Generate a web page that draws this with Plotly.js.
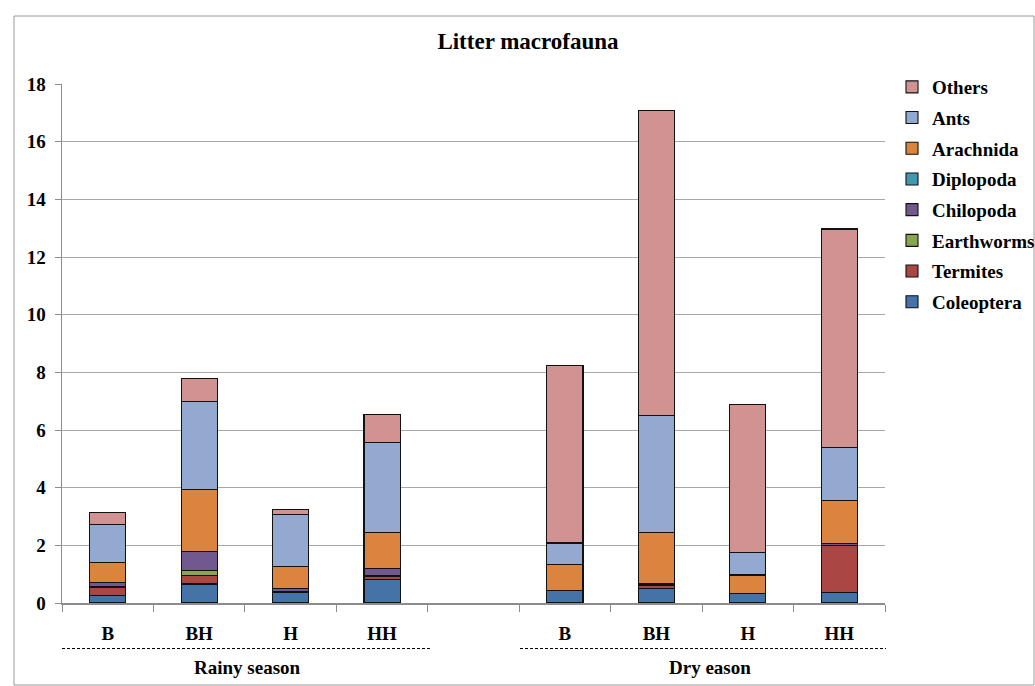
<!DOCTYPE html>
<html>
<head>
<meta charset="utf-8">
<script src="https://cdn.plot.ly/plotly-3.0.1.min.js"></script>
<style>html,body{margin:0;padding:0;background:#fff}#chart{width:1035px;height:686px}</style>
</head>
<body>
<div id="chart"></div>
<script>
// Category slots: rainy season B,BH,H,HH, gap, dry season B,BH,H,HH
var slotKeys = ['rB','rBH','rH','rHH','gap','dB','dBH','dH','dHH'];
var slotLabels = ['B','BH','H','HH','','B','BH','H','HH'];
var seasons = ['Rainy season','Dry eason'];

var coleoptera = [0.27, 0.66, 0.35, 0.82, null, 0.43, 0.51, 0.34, 0.36];
var termites   = [0.28, 0.30, 0.04, 0.09, null, 0.00, 0.11, 0.00, 1.62];
var earthworms = [0.02, 0.16, 0.02, 0.05, null, 0.00, 0.03, 0.00, 0.00];
var chilopoda  = [0.15, 0.66, 0.08, 0.23, null, 0.00, 0.03, 0.00, 0.09];
var diplopoda  = [0.00, 0.00, 0.00, 0.00, null, 0.00, 0.00, 0.00, 0.00];
var arachnida  = [0.69, 2.16, 0.77, 1.26, null, 0.92, 1.76, 0.63, 1.50];
var ants       = [1.32, 3.06, 1.80, 3.13, null, 0.73, 4.05, 0.78, 1.82];
var others     = [0.42, 0.79, 0.17, 0.96, null, 6.17, 10.58, 5.15, 7.58];

var seriesNames = ['Coleoptera','Termites','Earthworms','Chilopoda','Diplopoda','Arachnida','Ants','Others'];
var seriesValues = [coleoptera, termites, earthworms, chilopoda, diplopoda, arachnida, ants, others];
var seriesColors = ['#4572A7','#AA4643','#89A54E','#71588F','#4198AF','#DB843D','#93A9CF','#D19392'];

var FONT = 'Liberation Serif';

var traces = seriesNames.map(function(n, i){
  return {
    type: 'bar', name: n, x: slotKeys, y: seriesValues[i],
    legendgroup: n, legendrank: 100 - i,
    marker: {color: seriesColors[i], line: {color: '#111', width: 1.1}},
    hoverinfo: 'name+y'
  };
});

// plot area pixel geometry
var L = 62, R = 885, T = 84, B = 603, W = 1035, H = 686;
function px(x){ return (x - L) / (R - L); }
function py(y){ return (B - y) / (B - T); }

var shapes = [
  {type:'rect', xref:'paper', yref:'paper', x0:px(14), x1:px(1034), y0:py(685), y1:py(16),
   line:{color:'#9a9a9a', width:1}, layer:'below'},
  {type:'line', xref:'paper', yref:'paper', x0:px(62), x1:px(430), y0:py(648.5), y1:py(648.5),
   line:{color:'#000', width:1, dash:'3px,2px'}},
  {type:'line', xref:'paper', yref:'paper', x0:px(520), x1:px(886), y0:py(648.5), y1:py(648.5),
   line:{color:'#000', width:1, dash:'3px,2px'}}
];

var annotations = [
  {text: '<b>' + seasons[0] + '</b>', xref:'paper', yref:'paper', x:px(247), y:py(667), showarrow:false,
   font:{family:FONT, size:19, color:'#000'}, xanchor:'center', yanchor:'middle'},
  {text: '<b>' + seasons[1] + '</b>', xref:'paper', yref:'paper', x:px(710), y:py(667), showarrow:false,
   font:{family:FONT, size:19, color:'#000'}, xanchor:'center', yanchor:'middle'}
];

var layout = {
  width: W, height: H,
  margin: {l: L, r: W - R, t: T, b: H - B, pad: 0},
  paper_bgcolor: '#fff', plot_bgcolor: '#fff',
  barmode: 'stack', bargap: 0.606,
  font: {family: FONT, size: 18, color: '#000', weight: 'bold'},
  title: {text: '<b>Litter macrofauna</b>', xref:'container', yref:'container', x: 528/W, y: 1 - 41/H,
          xanchor:'center', yanchor:'middle', font:{family:FONT, size:23, color:'#000'}},
  xaxis: {
    type: 'category', categoryorder: 'array', categoryarray: slotKeys,
    tickvals: slotKeys, ticktext: slotLabels, range: [-0.5, 8.5],
    tickson: 'boundaries', ticks: 'outside', ticklen: 7, tickcolor: '#8c8c8c', tickwidth: 1,
    showline: true, linecolor: '#8c8c8c', linewidth: 2, showgrid: false, zeroline: false,
    ticklabelstandoff: 12,
    tickfont: {family: FONT, size: 19, color: '#000', weight: 'bold'}
  },
  yaxis: {
    range: [0, 18], dtick: 2, tick0: 0,
    ticks: 'outside', ticklen: 6, tickcolor: '#8c8c8c',
    showline: true, linecolor: '#8c8c8c', linewidth: 1.5,
    showgrid: true, gridcolor: '#a8a8a8', gridwidth: 1, zeroline: false,
    ticklabelstandoff: 5,
    tickfont: {family: FONT, size: 19, color: '#000', weight: 'bold'}
  },
  legend: {
    xref: 'container', yref: 'container',
    x: 892 / W, y: 1 - 68 / H, xanchor: 'left', yanchor: 'top',
    traceorder: 'grouped', tracegroupgap: 3,
    font: {family: FONT, size: 19, color: '#000', weight: 'bold'},
    bgcolor: 'rgba(0,0,0,0)', itemwidth: 30
  },
  shapes: shapes,
  annotations: annotations
};

Plotly.newPlot('chart', traces, layout, {displayModeBar: false, staticPlot: true});
</script>
</body>
</html>
